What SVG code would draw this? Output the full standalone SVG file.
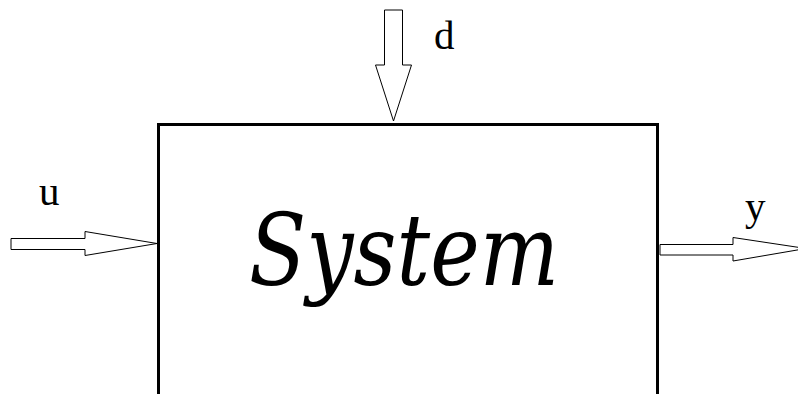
<svg xmlns="http://www.w3.org/2000/svg" width="798" height="394" viewBox="0 0 798 394">
  <style>
    .arrow { fill: #ffffff; stroke: #000000; stroke-width: 1; stroke-linejoin: miter; }
    .lbl { font-family: "Liberation Serif", "DejaVu Serif", serif; font-size: 41px; fill: #000000; }
    .sysname { font-family: "DejaVu Serif", serif; font-size: 100px; font-style: italic; fill: #000000; }
  </style>
  <rect width="798" height="394" fill="#ffffff"/>
  <g id="system">
    <rect x="158.5" y="124.5" width="499" height="300" fill="#ffffff" stroke="#000000" stroke-width="3"/>
    <text class="sysname" x="404" y="285" text-anchor="middle" textLength="310" lengthAdjust="spacingAndGlyphs">System</text>
  </g>
  <g id="connectors">
    <polygon class="arrow" points="11,238.5 85,238.5 85,231.5 157,243.5 85,255.5 85,249.5 11,249.5"/>
    <polygon class="arrow" points="384.5,10 402.5,10 402.5,65 411.5,65 393.5,121 375.5,65 384.5,65"/>
    <polygon class="arrow" points="660,244.5 733,244.5 733,237.5 806,248.5 733,261 733,255 660,255"/>
  </g>
  <g id="label-u"><text class="lbl" x="39" y="205">u</text></g>
  <g id="label-d"><text class="lbl" x="434" y="49">d</text></g>
  <g id="label-y"><text class="lbl" x="745" y="220">y</text></g>
</svg>
